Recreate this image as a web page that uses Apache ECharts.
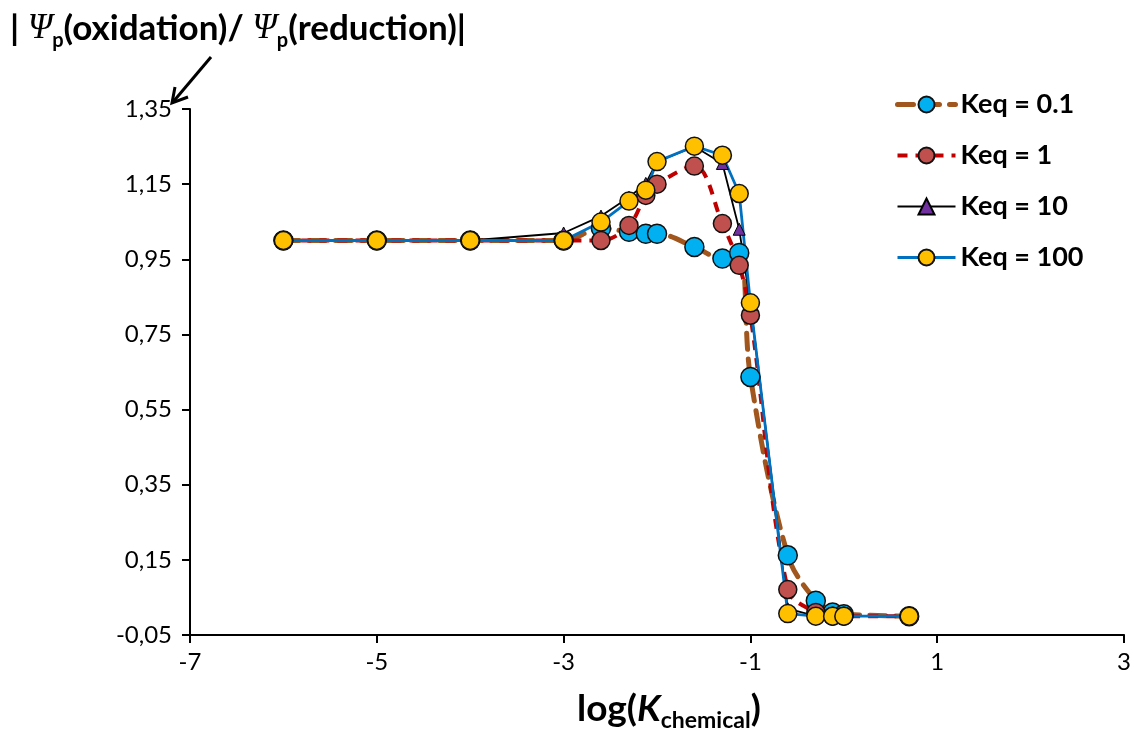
<!DOCTYPE html>
<html>
<head>
<meta charset="utf-8">
<script src="https://cdn.jsdelivr.net/npm/echarts@6/dist/echarts.min.js"></script>
<style>
  html, body { margin: 0; padding: 0; background: #ffffff; }
  #chart { width: 1134px; height: 735px; }
</style>
</head>
<body>
<div id="chart"></div>
<script>
// log(K_chemical) sampling points shared by all four curves
const logK = [-6, -5, -4, -3, -2.6, -2.3, -2.12, -2, -1.6, -1.3, -1.12, -1, -0.6, -0.3, -0.12, 0, 0.7];

// |Psi_p(oxidation) / Psi_p(reduction)| for each equilibrium constant
const keq01  = [1.0, 1.0, 1.0, 1.0, 1.032, 1.023, 1.018, 1.018, 0.983, 0.952, 0.967, 0.637, 0.162, 0.041, 0.01, 0.005, 0.0];
const keq1   = [1.0, 1.0, 1.0, 1.0, 1.0, 1.04, 1.12, 1.15, 1.198, 1.045, 0.934, 0.801, 0.071, 0.01, 0.0, 0.0, 0.0];
const keq10  = [1.0, 1.0, 1.0, 1.02, 1.065, 1.115, 1.152, 1.21, 1.25, 1.205, 1.03, 0.83, 0.02, 0.0, 0.0, 0.0, 0.0];
const keq100 = [1.0, 1.0, 1.0, 1.0, 1.049, 1.105, 1.134, 1.21, 1.251, 1.227, 1.125, 0.834, 0.007, 0.0, 0.0, 0.0, 0.0];

const seriesNames = ['Keq = 0.1', 'Keq = 1', 'Keq = 10', 'Keq = 100'];

// axis ranges
const xMin = -7, xMax = 3, xStep = 2;
const yMin = -0.05, yMax = 1.35, yStep = 0.2;

const FONT = 'Lato, "Open Sans", sans-serif';

// line looks per curve (also reused for the legend icons)
const lineStyles = [
  { color: '#A0561C', width: 5, type: [16, 10], cap: 'round' },
  { color: '#C00000', width: 4, type: [10, 8] },
  { color: '#000000', width: 1.8 },
  { color: '#0070C0', width: 2.8 }
];

const pairs = ys => logK.map((x, i) => [x, ys[i]]);

const chart = echarts.init(document.getElementById('chart'), null, { renderer: 'canvas' });

chart.setOption({
  animation: false,
  backgroundColor: '#ffffff',
  grid: { left: 190, right: 9, top: 109, bottom: 100, containLabel: false },
  xAxis: {
    type: 'value',
    min: xMin, max: xMax, interval: xStep,
    axisLine: { onZero: false, lineStyle: { color: '#000', width: 2 } },
    axisTick: { show: true, inside: false, length: 8, lineStyle: { color: '#000', width: 2 } },
    axisLabel: { color: '#000', fontFamily: FONT, fontSize: 24, margin: 15,
      formatter: v => String(Math.round(v)) },
    splitLine: { show: false }
  },
  yAxis: {
    type: 'value',
    min: yMin, max: yMax, interval: yStep,
    axisLine: { show: true, onZero: false, lineStyle: { color: '#000', width: 2 } },
    axisTick: { show: true, inside: false, length: 8, lineStyle: { color: '#000', width: 2 } },
    axisLabel: { color: '#000', fontFamily: FONT, fontSize: 24, margin: 18,
      formatter: v => v.toFixed(2).replace('.', ',') },
    splitLine: { show: false }
  },
  legend: {
    orient: 'vertical',
    left: 890, top: 86,
    itemWidth: 58, itemHeight: 20, itemGap: 24,
    textStyle: { color: '#000', fontFamily: FONT, fontWeight: 'bold', fontSize: 27 },
    data: seriesNames.map((name, i) => ({ name: name, lineStyle: { width: lineStyles[i].width } }))
  },
  series: [
    {
      name: seriesNames[0], type: 'line', data: pairs(keq01),
      smooth: 0.35, symbol: 'circle', symbolSize: 19,
      lineStyle: lineStyles[0],
      itemStyle: { color: '#00B0F0', borderColor: '#111', borderWidth: 1.5 }
    },
    {
      name: seriesNames[1], type: 'line', data: pairs(keq1),
      smooth: 0.35, symbol: 'circle', symbolSize: 18,
      lineStyle: lineStyles[1],
      itemStyle: { color: '#C0504D', borderColor: '#111', borderWidth: 1.5 }
    },
    {
      name: seriesNames[2], type: 'line', data: pairs(keq10),
      symbol: 'triangle', symbolSize: 12,
      lineStyle: lineStyles[2],
      itemStyle: { color: '#7030A0', borderColor: '#000', borderWidth: 1 }
    },
    {
      name: seriesNames[3], type: 'line', data: pairs(keq100),
      symbol: 'circle', symbolSize: 18,
      lineStyle: lineStyles[3],
      itemStyle: { color: '#FFC000', borderColor: '#111', borderWidth: 1.5 }
    }
  ],
  graphic: [
    {
      // y-axis title
      type: 'text', left: 10, top: 11,
      style: {
        text: '{b|| }{psi|Ψ}{sub|p}{b|(oxidation)/ }{psi|Ψ}{sub|p}{b|(reduction)|}',
        rich: {
          b: { fontFamily: FONT, fontWeight: 'bold', fontSize: 35, lineHeight: 44, fill: '#000' },
          psi: { fontFamily: '"Liberation Serif", serif', fontStyle: 'italic', fontSize: 35, lineHeight: 44, fill: '#000' },
          sub: { fontFamily: FONT, fontWeight: 'bold', fontSize: 20, lineHeight: 19, verticalAlign: 'bottom', fill: '#000' }
        }
      }
    },
    {
      // x-axis title
      type: 'text', left: 577, top: 691,
      style: {
        text: '{b|log(}{k|K}{sub|chemical}{b|)}',
        rich: {
          b: { fontFamily: FONT, fontWeight: 'bold', fontSize: 37, lineHeight: 46, fill: '#000' },
          k: { fontFamily: FONT, fontWeight: 'bold', fontStyle: 'italic', fontSize: 37, lineHeight: 46, fill: '#000' },
          sub: { fontFamily: FONT, fontWeight: 'bold', fontSize: 23, lineHeight: 22, verticalAlign: 'bottom', fill: '#000' }
        }
      }
    },
    {
      // pointer arrow towards the top of the y axis
      type: 'line', shape: { x1: 211, y1: 57, x2: 173, y2: 102 },
      style: { stroke: '#000', lineWidth: 3 }
    },
    {
      type: 'polyline', shape: { points: [[188, 97], [172, 103], [175, 87]] },
      style: { stroke: '#000', lineWidth: 3, fill: null, lineJoin: 'miter' }
    }
  ]
});
</script>
</body>
</html>
